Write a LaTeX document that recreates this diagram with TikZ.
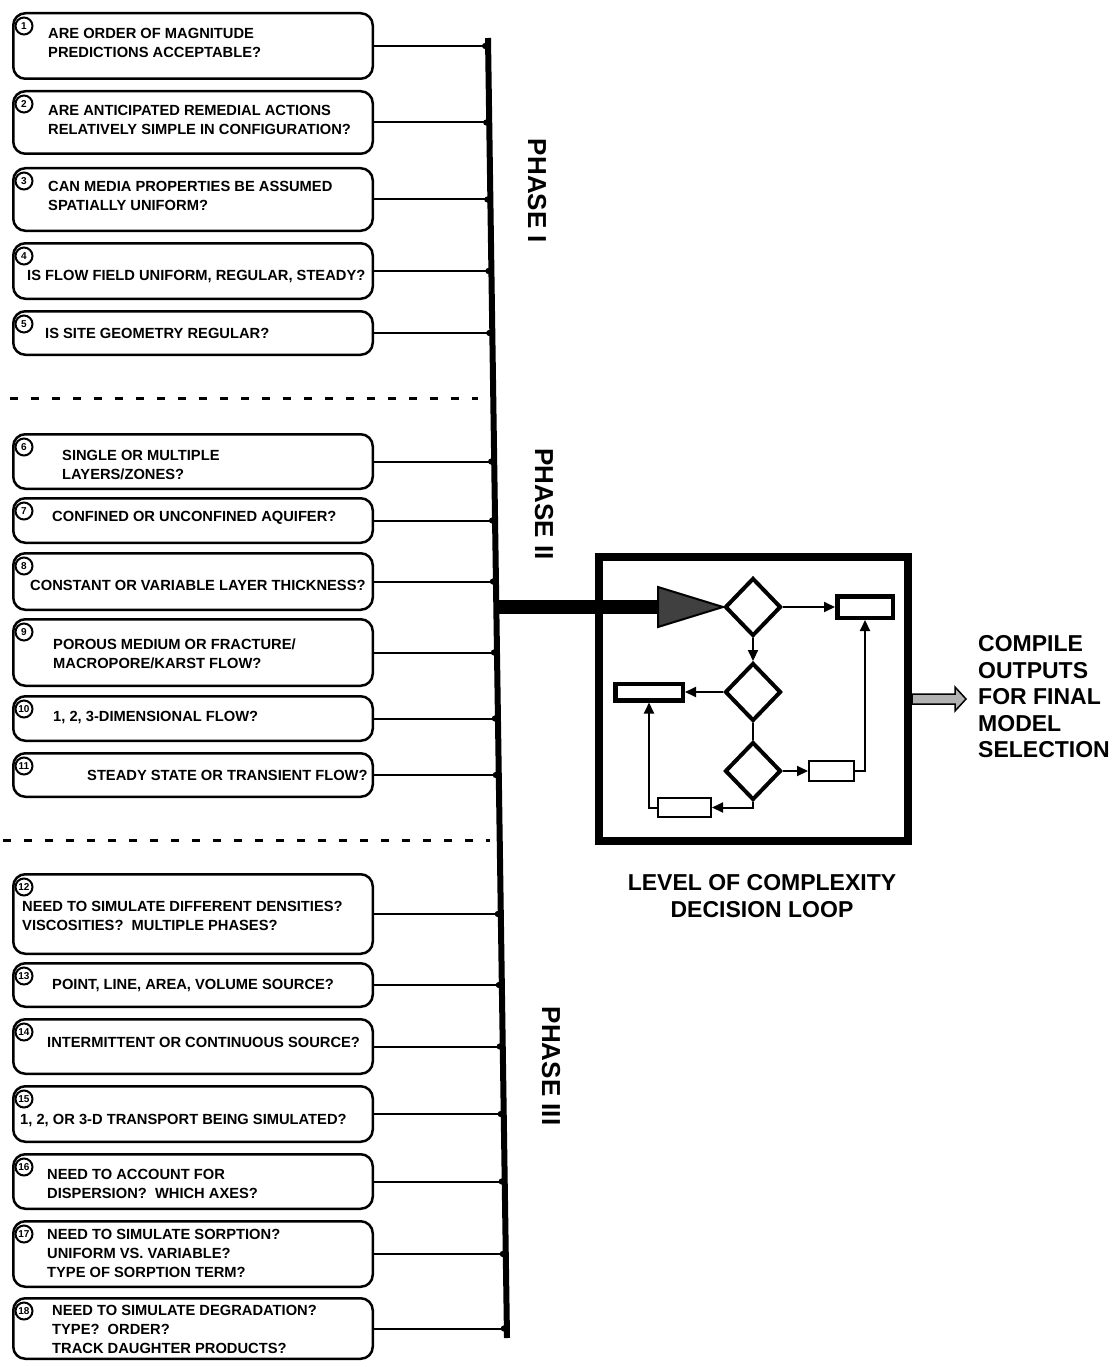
\documentclass[tikz,border=0pt]{standalone}
\usepackage{fontspec}
\setmainfont{Liberation Sans}
\usetikzlibrary{shapes.geometric,arrows.meta,calc}

\tikzset{
  question/.style={draw, rounded corners=12pt, line width=2.5pt, minimum width=359.5pt, inner sep=0pt},
  qtext/.style={anchor=west, align=left, inner sep=0pt, font=\fontsize{14.7}{19}\selectfont\bfseries},
  qnum/.style={draw, circle, fill=white, line width=2pt, minimum size=17pt, inner sep=0pt, font=\fontsize{10}{10}\selectfont\bfseries},
  link/.style={line width=2pt, -{Circle[length=6pt]}},
  phase/.style={rotate=-90, inner sep=0pt, font=\fontsize{26}{26}\selectfont\bfseries},
  sep/.style={line width=3pt, dash pattern=on 8pt off 13pt},
  choice/.style={draw, diamond, line width=4pt, minimum width=56pt, minimum height=58pt, inner sep=0pt},
  result/.style={draw, line width=4.5pt, inner sep=0pt},
  minor/.style={draw, line width=2pt, inner sep=0pt},
  flow/.style={line width=2pt, -{Triangle[length=11pt,width=10pt]}},
  bigtext/.style={inner sep=0pt, font=\fontsize{23}{26.5}\selectfont\bfseries}
}

\begin{document}
\begin{tikzpicture}[x=1pt, y=-1pt]
    \useasboundingbox (0,0) rectangle (1112,1367);

    \coordinate (bustop) at (488,38);
    \coordinate (busend) at (507,1338);
    \draw[line width=6pt] (bustop) -- (busend);

    \foreach \n/\ya/\yb/\tx/\ty/\txt in {
        1/12/80/48/43/{ARE ORDER OF MAGNITUDE\\PREDICTIONS ACCEPTABLE?},
        2/90/155/48/120/{ARE ANTICIPATED REMEDIAL ACTIONS\\RELATIVELY SIMPLE IN CONFIGURATION?},
        3/167/232/48/196/{CAN MEDIA PROPERTIES BE ASSUMED\\SPATIALLY UNIFORM?},
        4/242/300/27/277/{IS FLOW FIELD UNIFORM, REGULAR, STEADY?},
        5/310/356/45/333/{IS SITE GEOMETRY REGULAR?},
        6/433/490/62/465/{SINGLE OR MULTIPLE\\LAYERS/ZONES?},
        7/497/544/52/518/{CONFINED OR UNCONFINED AQUIFER?},
        8/552/611/30/585/{CONSTANT OR VARIABLE LAYER THICKNESS?},
        9/618/687/53/654/{POROUS MEDIUM OR FRACTURE/\\MACROPORE/KARST FLOW?},
        10/695/742/53/717/{1, 2, 3-DIMENSIONAL FLOW?},
        11/752/798/87/775/{STEADY STATE OR TRANSIENT FLOW?},
        12/873/955/22/916/{NEED TO SIMULATE DIFFERENT DENSITIES?\\VISCOSITIES?\ \ MULTIPLE PHASES?},
        13/962/1008/52/985/{POINT, LINE, AREA, VOLUME SOURCE?},
        14/1018/1075/47/1042/{INTERMITTENT OR CONTINUOUS SOURCE?},
        15/1085/1143/20/1120/{1, 2, OR 3-D TRANSPORT BEING SIMULATED?},
        16/1153/1210/47/1184/{NEED TO ACCOUNT FOR\\DISPERSION?\ \ WHICH AXES?},
        17/1220/1288/47/1253/{NEED TO SIMULATE SORPTION?\\UNIFORM VS. VARIABLE?\\TYPE OF SORPTION TERM?},
        18/1297/1360/52/1329/{NEED TO SIMULATE DEGRADATION?\\TYPE?\ \ ORDER?\\TRACK DAUGHTER PRODUCTS?}}{
        \pgfmathsetmacro\qmid{(\ya+\yb)/2}
        \pgfmathsetmacro\qhgt{\yb-\ya-2.5}
        \node[question, minimum height=\qhgt pt] (q\n) at (193,\qmid) {};
        \node[qtext] (q\n-txt) at (\tx,\ty) {\txt};
        \node[qnum] (q\n-num) at ([xshift=12pt,yshift=-14pt]q\n.north west) {\n};
        \coordinate (j\n) at ($(bustop)!(q\n.east)!(busend)$);
        \draw[link] (q\n.east) -- (q\n.east -| j\n);
    }

    \draw[sep] (10,398) -- (478,398);
    \draw[sep] (3,840) -- (490,840);

    \node[phase] (p1) at (537,191) {PHASE I};
    \node[phase] (p2) at (544,504) {PHASE II};
    \node[phase] (p3) at (551,1066) {PHASE III};

    \node[draw, line width=8pt, minimum width=309pt, minimum height=284pt] (loop) at (753.5,699) {};

    \node[choice] (d1) at (753,607) {};
    \node[choice] (d2) at (753,692) {};
    \node[choice] (d3) at (753,771) {};
    \node[result, minimum width=55.5pt, minimum height=21.5pt] (tr) at (865,607) {};
    \node[result, minimum width=67.5pt, minimum height=16.5pt] (lb) at (649,692) {};
    \node[minor, minimum width=45pt, minimum height=20pt] (rb) at (831.5,771) {};
    \node[minor, minimum width=53pt, minimum height=19pt] (bb) at (684.5,807.5) {};

    \coordinate (feed) at ($(bustop)!(d1.west)!(busend)$);
    \coordinate (tri) at ([xshift=-65pt]d1.west);
    \draw[line width=14pt] (tri -| feed) -- (tri);
    \filldraw[line width=2pt, fill=black!75] (d1.west) -- ++(-65,-20) -- ++(0,40) -- cycle;

    \draw[flow] (d1.east) -- (tr.west);
    \draw[flow] (d1.south) -- (d2.north);
    \draw[flow] (d2.west) -- (lb.east);
    \draw[line width=2pt] (d2.south) -- (d3.north);
    \draw[flow] (d3.east) -- (rb.west);
    \draw[flow] (rb.east) -| (tr.south);
    \draw[flow] (d3.south) |- (bb.east);
    \draw[flow] (bb.west) -| (lb.south);

    \filldraw[line width=1.5pt, fill=black!30] (loop.east) ++(0,-5) -- ++(43,0) -- ++(0,-7) -- ++(11,12)
        -- ++(-11,12) -- ++(0,-7) -- ++(-43,0) -- cycle;

    \node[bigtext, anchor=west, align=left] (final) at (978,697) {COMPILE\\OUTPUTS\\FOR FINAL\\MODEL\\SELECTION};
    \node[bigtext, align=center] (caption) at (762,896) {LEVEL OF COMPLEXITY\\DECISION LOOP};
\end{tikzpicture}
\end{document}
